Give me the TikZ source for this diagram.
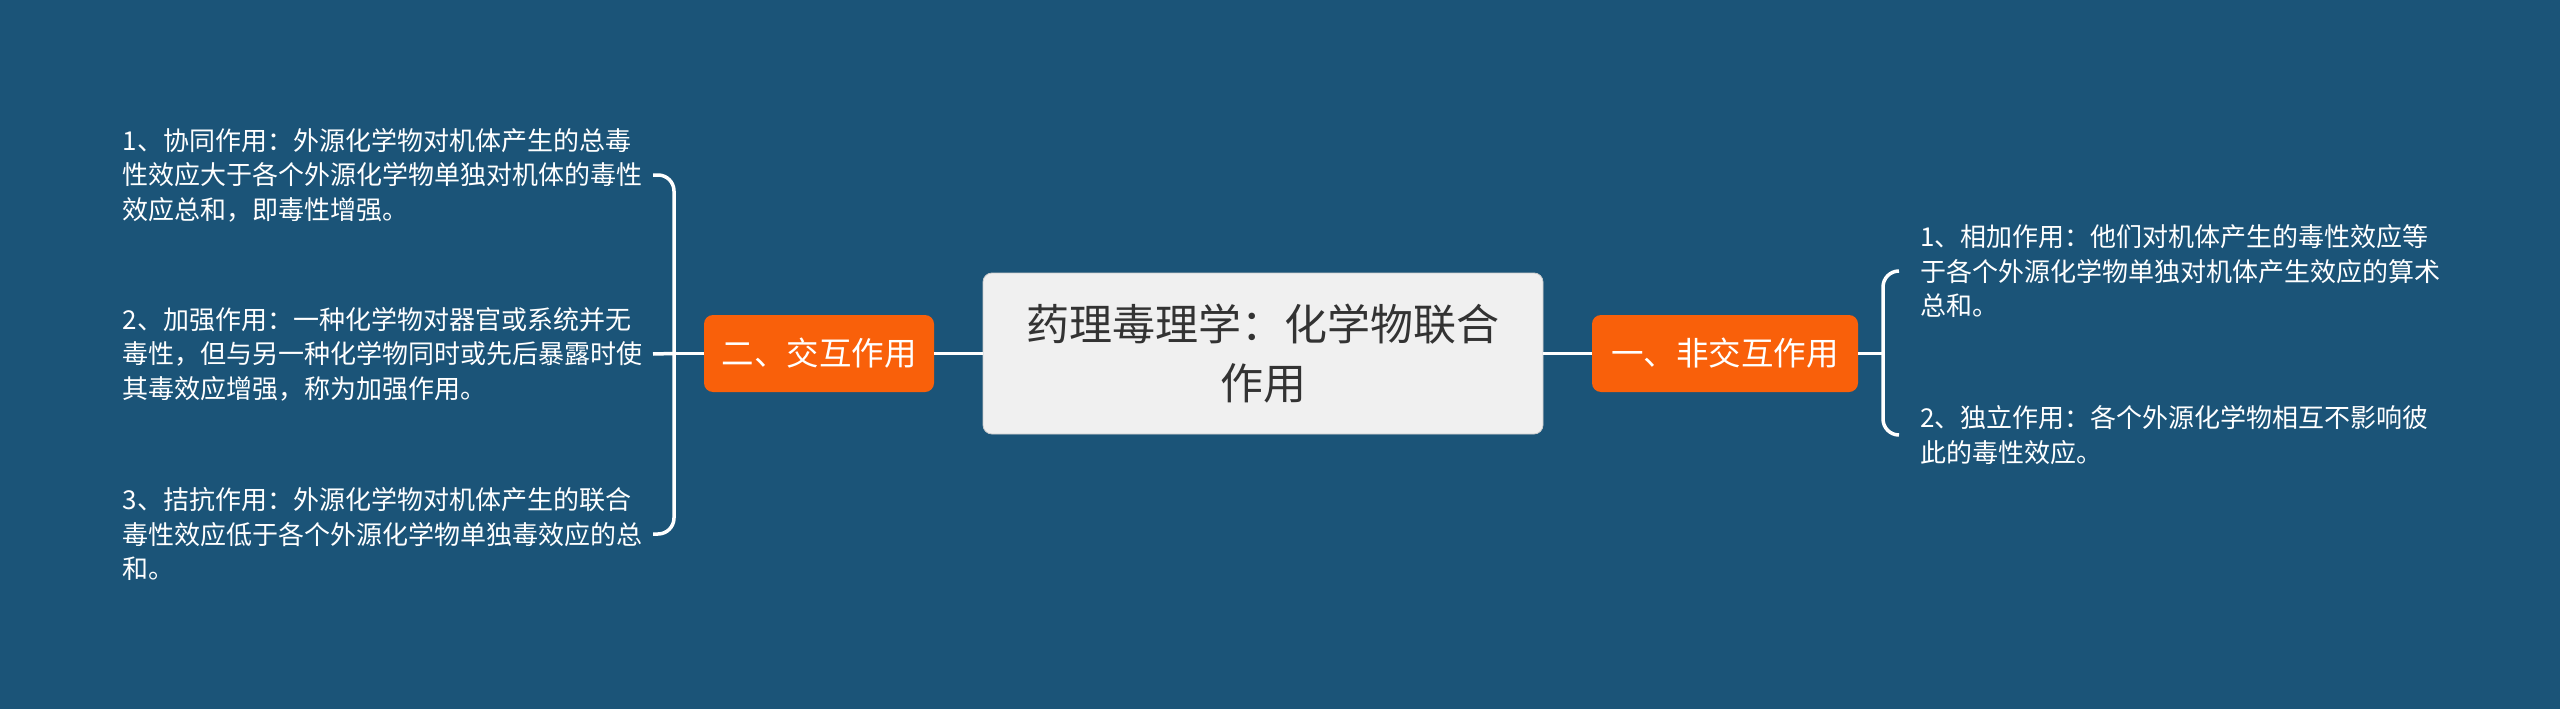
\documentclass[tikz,border=0pt]{standalone}
\usepackage{fontspec}
\setmainfont{Noto Sans CJK SC}
\definecolor{bg}{RGB}{27,84,120}
\definecolor{orng}{RGB}{249,96,10}
\definecolor{ctrfill}{RGB}{240,240,240}
\definecolor{ctrtext}{RGB}{51,51,51}
\begin{document}
\begin{tikzpicture}[x=1pt,y=-1pt,
  conn/.style={draw=white,line width=3.5pt},
  brk/.style={draw=white,line width=3.5pt,rounded corners=16pt},
  ctr/.style={fill=ctrfill,draw=ctrfill!85!black,line width=0.8pt,rounded corners=9pt,minimum width=560pt,minimum height=161pt,text width=500pt,align=center,text=ctrtext,font=\fontsize{43pt}{59pt}\selectfont,inner sep=0pt},
  topic/.style={fill=orng,rounded corners=9pt,minimum height=77pt,text=white,font=\fontsize{32.5pt}{40pt}\selectfont,inner sep=0pt},
  leaftxt/.style={text=white,text width=530pt,align=left,font=\fontsize{26pt}{34.4pt}\selectfont,inner ysep=0pt}
]
\path[fill=bg] (0,0) rectangle (2560,709);

\node[ctr] (c) at (1263,353.5) {药理毒理学：化学物联合\\作用};
\node[topic,minimum width=230pt] (l) at (819,353.5) {二、交互作用};
\node[topic,minimum width=266pt] (r) at (1725,353.5) {一、非交互作用};

% left leaves
\node[leaftxt,inner xsep=0pt,anchor=east] (l1) at (653,175) {1、协同作用：外源化学物对机体产生的总毒\\性效应大于各个外源化学物单独对机体的毒性\\效应总和，即毒性增强。};
\node[leaftxt,inner xsep=0pt,anchor=east] (l2) at (653,354) {2、加强作用：一种化学物对器官或系统并无\\毒性，但与另一种化学物同时或先后暴露时使\\其毒效应增强，称为加强作用。};
\node[leaftxt,inner xsep=0pt,anchor=east] (l3) at (653,534) {3、拮抗作用：外源化学物对机体产生的联合\\毒性效应低于各个外源化学物单独毒效应的总\\和。};

% right leaves
\node[leaftxt,inner xsep=0pt,anchor=west] (r1) at (1920,271) {1、相加作用：他们对机体产生的毒性效应等\\于各个外源化学物单独对机体产生效应的算术\\总和。};
\node[leaftxt,inner xsep=0pt,anchor=west] (r2) at (1920,435) {2、独立作用：各个外源化学物相互不影响彼\\此的毒性效应。};

\coordinate (lbx) at (674,353.5);
\coordinate (rbx) at (1883,353.5);

\draw[conn] (c.west) -- (l.east);
\draw[conn] (c.east) -- (r.west);

\draw[conn] (l.west) -- (lbx);
\draw[brk] ([xshift=-0pt]l1.east) -- (lbx |- l1.east) -- (lbx |- l3.east) -- (l3.east);
\draw[conn] (lbx) -- (l2.east);

\draw[conn] (r.east) -- (rbx);
\draw[brk] ([xshift=-21pt]r1.west) -- (rbx |- r1.west) -- (rbx |- r2.west) -- ([xshift=-21pt]r2.west);
\end{tikzpicture}
\end{document}
